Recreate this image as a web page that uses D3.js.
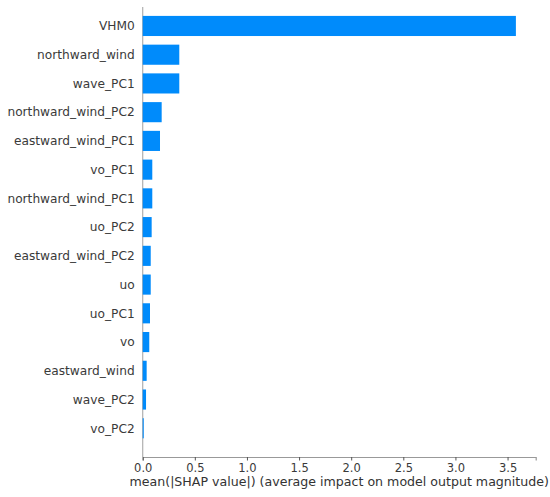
<!DOCTYPE html>
<html>
<head>
<meta charset="utf-8">
<script src="https://cdn.jsdelivr.net/npm/d3@7"></script>
<style>
  body { margin: 0; background: #fff; }
  svg { display: block; font-family: "DejaVu Sans", sans-serif; }
</style>
</head>
<body>
<svg width="550" height="497"></svg>
<script>
  // features, top to bottom
  var features = ["VHM0", "northward_wind", "wave_PC1", "northward_wind_PC2", "eastward_wind_PC1",
    "vo_PC1", "northward_wind_PC1", "uo_PC2", "eastward_wind_PC2", "uo", "uo_PC1", "vo",
    "eastward_wind", "wave_PC2", "vo_PC2"];
  var meanShap = [3.58, 0.351, 0.351, 0.182, 0.166, 0.092, 0.092, 0.086, 0.077, 0.077, 0.070, 0.063,
    0.038, 0.032, 0.010];
  var xTicks = [0, 0.5, 1.0, 1.5, 2.0, 2.5, 3.0, 3.5];
  var xLabel = "mean(|SHAP value|) (average impact on model output magnitude)";

  var svg = d3.select("svg"),
      margin = {top: 7, left: 142.7, right: 14.3, bottom: 40},
      width = svg.attr("width") - margin.left - margin.right,
      height = svg.attr("height") - margin.top - margin.bottom,
      g = svg.append("g").attr("transform", "translate(" + margin.left + "," + margin.top + ")");

  var x = d3.scaleLinear().domain([0, 3.77]).range([0, width]);
  var y = d3.scaleLinear().domain([-0.66, features.length]).range([0, height]);
  var barH = y(0.7) - y(0);

  // vertical line at zero
  g.append("line")
      .attr("x1", x(0)).attr("x2", x(0))
      .attr("y1", 0).attr("y2", height)
      .attr("stroke", "#b0b0b0")
      .attr("stroke-width", 1.2);

  g.selectAll(".bar")
      .data(meanShap)
      .enter().append("rect")
      .attr("class", "bar")
      .attr("x", x(0))
      .attr("y", function(d, i) { return y(i) - barH / 2; })
      .attr("width", function(d) { return x(d) - x(0); })
      .attr("height", barH)
      .attr("fill", "#008bfb");

  g.selectAll(".flabel")
      .data(features)
      .enter().append("text")
      .attr("class", "flabel")
      .attr("x", -8)
      .attr("y", function(d, i) { return y(i); })
      .attr("dy", "0.35em")
      .attr("text-anchor", "end")
      .attr("fill", "#3a3a3a")
      .style("font-size", "12.2px")
      .text(function(d) { return d; });

  var xAxis = g.append("g")
      .attr("transform", "translate(0," + height + ")")
      .call(d3.axisBottom(x).tickValues(xTicks).tickFormat(d3.format(".1f")).tickSize(3.5).tickPadding(3));
  xAxis.select(".domain").attr("stroke", "#999999").attr("stroke-width", 1.2);
  xAxis.selectAll(".tick line").attr("stroke", "#555555");
  xAxis.selectAll(".tick text")
      .attr("fill", "#3a3a3a")
      .style("font-size", "11.5px")
      .style("font-family", "DejaVu Sans, sans-serif");

  g.append("text")
      .attr("x", width / 2)
      .attr("y", height + 29)
      .attr("text-anchor", "middle")
      .attr("fill", "#333333")
      .style("font-size", "12.6px")
      .text(xLabel);
</script>
</body>
</html>
